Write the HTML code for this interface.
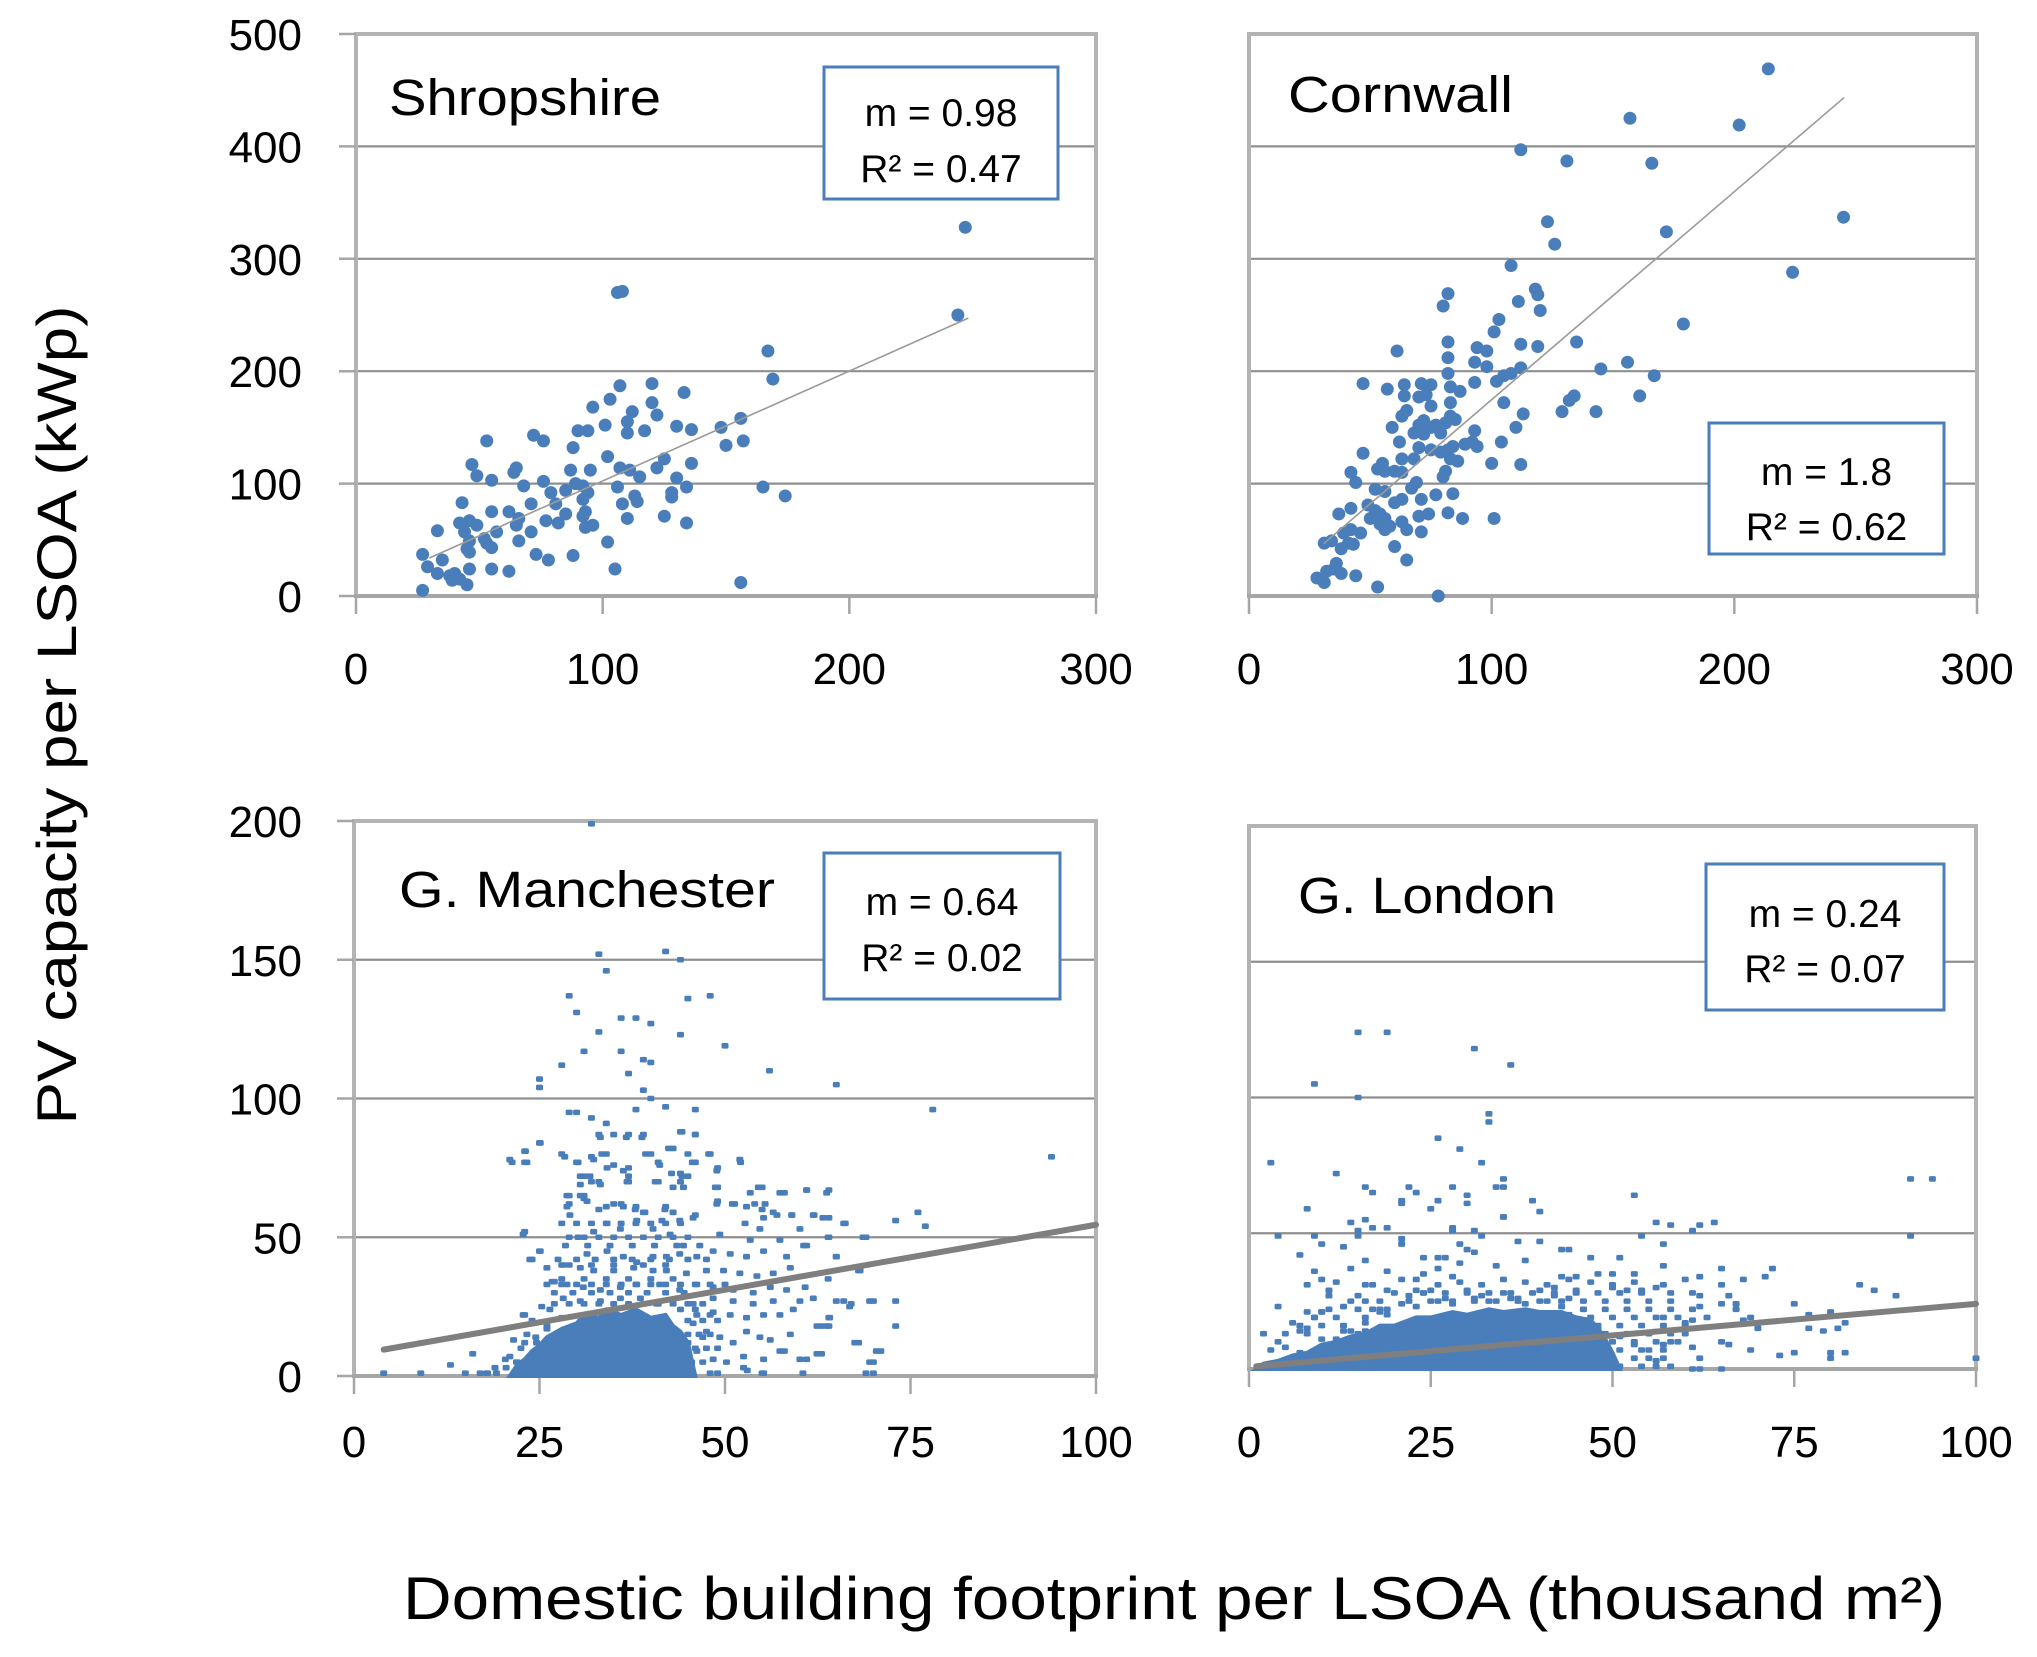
<!DOCTYPE html>
<html><head><meta charset="utf-8"><title>PV capacity vs building footprint</title>
<style>html,body{margin:0;padding:0;background:#fff;}svg{display:block;font-family:"Liberation Sans",Arial,sans-serif;}</style>
</head><body>
<svg id="chart" width="2037" height="1657" viewBox="0 0 2037 1657" xmlns="http://www.w3.org/2000/svg">
<rect x="0" y="0" width="2037" height="1657" fill="#fff"/>
<g id="layer"></g>
<text transform="translate(76,715) rotate(-90)" text-anchor="middle" font-size="56" textLength="819" lengthAdjust="spacingAndGlyphs" fill="#000">PV capacity per LSOA (kWp)</text>
<text x="1174" y="1619" text-anchor="middle" font-size="60" textLength="1542" lengthAdjust="spacingAndGlyphs" fill="#000">Domestic building footprint per LSOA (thousand m²)</text>
</svg>
<script>
// ---------- data ----------
const shropX = [247,244,106,108,167,169,120,107,133,103,96,120,112,122,156,148,101,90,94,130,136,117,110,110,72,76,53,150,157,88,102,125,136,47,65,64,49,55,87,95,107,111,122,115,130,76,68,89,92,106,134,165,174,128,128,79,85,94,92,113,114,43,71,81,108,93,92,55,62,85,125,110,42,46,49,66,65,77,82,96,134,93,33,44,57,71,52,53,55,46,66,102,45,46,27,73,88,78,35,29,46,55,62,105,33,38,40,39,42,45,156,27];
const shropY = [328,250,270,271,218,193,189,187,181,175,168,172,164,161,158,150,152,147,147,151,148,147,155,145,143,138,138,134,138,132,124,122,118,117,114,110,107,103,112,112,114,112,114,106,105,102,98,100,98,97,97,97,89,92,88,92,94,92,86,89,84,83,82,82,82,75,71,75,75,73,71,69,65,67,63,69,63,67,65,63,65,61,58,57,57,57,51,47,43,49,49,48,42,39,37,37,36,32,32,26,24,24,22,24,20,18,20,14,15,10,12,5];

const cornX = [214,157,202,112,131,166,245,123,172,126,108,224,118,119,120,82,80,111,103,179,101,82,135,112,119,94,98,61,82,93,98,156,145,112,108,105,102,82,167,93,47,57,64,71,75,83,87,64,70,73,134,132,161,105,83,75,65,63,129,143,113,83,85,81,72,70,75,77,59,110,93,68,72,79,62,104,89,94,92,70,75,79,82,84,47,83,86,100,112,63,68,55,53,56,60,63,42,44,81,80,69,67,52,56,84,77,71,63,60,49,52,54,56,42,37,82,88,101,70,74,50,54,56,58,63,65,42,46,39,71,31,34,41,38,43,60,65,36,35,32,38,44,28,31,53,78];
const cornY = [469,425,419,397,387,385,337,333,324,313,294,288,273,268,254,269,258,262,246,242,235,226,226,224,222,221,218,218,212,208,204,208,202,203,198,196,191,198,196,190,189,184,188,189,188,186,182,178,177,179,178,174,178,172,172,169,165,160,164,164,162,160,157,154,156,152,150,152,150,150,147,145,144,145,137,137,135,133,137,132,130,128,130,133,127,122,120,118,117,122,122,118,113,111,111,110,110,101,111,106,101,96,95,93,91,90,86,86,83,81,76,73,69,78,73,74,69,69,71,73,69,64,59,62,66,59,59,56,56,57,47,49,47,42,46,44,32,29,24,22,20,18,16,12,8,0];

const manX = [32,33,42,44,34,29,30,45,48,36,38,40,33,44,50,31,36,39,40,28,56,37,25,25,65,39,40,78,29,30,42,46,38,32,34,44,46,33,35,37,39,25,23,23,21,28,30,32,34,40,43,45,48,52,46,94,35,37,37,41,44,45,49,31,32,33,37,41,44,49,55,58,61,64,29,31,29,31,34,36,38,39,42,43,46,49,51,54,55,57,59,62,64,66,73,76,77,69,64,61,65,68,70,73,73,63,64,68,71,70,61,63,66,67,64,58,23,24,25,27,28,23,16,13,4,9,21,22,18,15,17,70,53,55,49,
21.3,23.3,23.1,25.1,28.4,30.2,32.3,33.4,33.2,36.7,38.8,44.2,46,39.3,42.4,47.8,52.1,45.6,41.2,34.1,36.3,30.5,31.8,33.2,36.8,40.6,42.8,44.2,48.9,30.5,43,44.4,48.7,28.7,30.5,31.4,28.7,29.1,33,35,36.3,37.9,39.2,41.9,43,43.9,45.7,48.9,51.3,53.4,54.5,57.4,61,63.7,52.9,55.4,56.5,59,61.9,63.2,66.2,52.7,54.7,60.1,55.2,22.8,30.2,32.3,34.1,35.9,38.1,40.3,41.5,42.6,44.4,46.6,49.3,53.4,57.4,60.6,63.9,68.6,25.1,23.7,26,28.2,26.7,31.4,34.1,36.3,38.1,40.3,42.1,43.9,46.2,48.4,50.7,52.9,55.2,58.3,65,30.5,32.3,35,37.7,40.3,42.1,44.8,47.5,49.8,52,54.3,56.5,58.8,68.2,63.9,28.7,30.9,33.2,35.9,38.1,41.2,43.9,46.2,48.4,51.1,53.8,56.1,58.3,60.8,28.2,30.5,33.2,35.9,38.6,40.8,45.7,48.4,51.1,53.8,56.5,60.1,61.9,65,66.8,69.5,22.8,25.3,26.4,46.2,48.4,50.7,52.9,55.2,57.4,59.2,64.1,21.5,23.3,24.6,26,45.7,47.5,49.3,51.1,52.9,54.7,56.1,58.8,62.4,63.7,67.5,20.4,21.9,23.7,25.5,46.2,48.4,50.2,52.5,55.2,57.4,60.1,62.4,69.5,70.4,17.9,19.2,48,52.5,55.2,60.5,69,
27,29,31,33,35,37,39,41,43,45,47,27,29.5,32,34.5,37,39.5,42,44.5,28,31,34,37,40,43,29,32,35,39,42,45,47,49,45,46.5,48,46,47.5,45.5,47,19,20.5,22.5,24.5,
28,30,32,34,36,38,40,42,44,29,31,33,35,37,39,41,43,45,28.5,31.5,34.5,37.5,40.5,43.5,27.5,30,32.5,35,37.5,40,42.5,45,47.5,26,28,30,32,34,36,38,40,42,44,46,48,50,24,26,28,44,46,48,23,25,45,47,49];
const manY = [199,152,153,150,146,137,131,136,137,129,129,127,124,123,119,117,117,114,113,112,110,109,107,104,105,103,100,96,95,95,97,96,96,93,91,88,87,87,87,87,87,84,81,77,78,80,77,79,80,80,82,80,80,78,77,79,76,75,72,77,73,72,75,72,70,70,70,70,70,68,68,66,67,67,65,65,62,64,61,62,61,59,61,59,58,63,62,62,60,58,58,58,57,55,56,59,54,50,50,47,43,38,27,27,18,18,18,12,9,5,6,8,27,26,21,9,52,42,45,34,40,22,8,4,1,1,7,5,1,1,1,1,2,1,1,
77,77,81,84,79,77,78,80,86,86,86,88,87,80,82,80,77,77,76,75,74,72,72,69,70,70,73,72,74,69,68,68,68,65,65,63,61,58,60,62,61,60,59,60,59,56,57,62,62,66,68,66,67,66,61,62,59,58,58,57,55,55,53,53,57,51,50,52,55,53,56,53,56,51,47,47,51,49,49,47,50,50,45,42,39,40,34,44,45,43,41,43,43,44,43,45,44,43,45,43,43,39,38,38,39,38,38,37,38,38,37,36,37,39,38,35,33,32,31,32,33,33,31,33,32,31,30,32,31,32,28,27,27,28,28,26,26,28,27,26,27,27,28,27,25,27,22,25,24,22,23,22,21,22,22,24,21,13,15,12,17,19,16,14,12,16,14,13,15,18,18,12,6,5,7,9,9,6,5,7,6,9,6,8,5,9,1,1,1,3,1,1,1,
26,26,26,26,26,26,26,26,26,26,26,30,30,30,30,30,30,30,30,35,35,35,35,35,35,40,40,40,40,40,20,20,20,15,15,15,10,10,5,5,3,3,10,14,
55,55,55,55,55,55,55,55,55,50,50,50,50,50,50,50,50,50,47,47,47,47,47,47,42,42,42,42,42,42,42,42,42,33,33,33,33,33,33,33,33,33,33,33,33,33,20,18,21,24,24,22,12,8,12,14,10];
const manCoreX = [21,22,23,24,25,26,28,30,31,33,34,36,38,40,42,43,44,45,45.5,46];
const manCoreY = [0,4,6,9,11,14,17,19,22,21,24,22,24,21,22,18,16,12,6,0];

const lonX = [15,19,31,36,9,15,33,33,26,29,3,32,12,91,94,16,17,22,23,28,35,35,34,53,21,21,26,25,30,30,39,40,8,35,35,14,16,56,58,62,64,17,19,28,28,4,9,15,15,31,32,54,61,91,10,13,21,21,29,30,31,37,40,43,44,57,7,24,26,27,47,51,16,38,34,29,57,65,72,9,14,19,24,26,28,43,45,48,50,53,68,71,10,8,16,21,62,65,84,86,89,11,11,19,23,24,42,45,50,52,54,56,58,61,62,66,4,13,15,16,75,65,62,67,8,10,9,10,17,18,67,69,68,77,80,6,7,8,60,61,57,70,77,79,81,82,2,10,12,14,15,16,65,66,58,60,61,55,57,69,73,75,80,82,80,100,62,57,56,61,62,65,5,7,3,6,
20,24,27,30,33,36,39,42,45,48,51,54,14,18,22,25,28,31,34,37,40,43,46,49,52,55,58,11,15,19,46,49,52,55,58,61,9,12,16,47,50,53,56,59,63,7,10,13,48,51,54,57,60,5,8,49,52,55,58,4,50,53,56,59,3,51,54,57,50,53,55,49,51,54,56,58,12,17,23,26,29,32,35,38,41,44,47,50,53,57,60,
18,21,23,26,28,31,33,36,38,41,43,46,22,25,27,30,32,35,37,40,42,44,13,16,19,44,46,48,51,53];
const lonY = [124,124,118,112,105,100,94,91,85,81,76,76,72,70,70,67,65,67,65,67,70,67,67,64,61,62,62,59,64,61,62,58,59,56,56,54,55,54,53,53,54,52,52,52,51,49,49,49,51,51,49,49,51,49,46,45,48,46,46,44,43,47,47,44,44,46,42,41,41,41,41,41,40,40,38,39,38,37,37,36,37,36,35,37,34,34,34,35,35,35,33,34,33,31,31,33,34,31,31,29,27,29,27,29,29,28,30,29,30,29,29,30,28,28,27,27,23,23,27,25,24,24,23,24,21,21,19,21,22,21,22,19,18,20,21,17,14,15,17,18,19,15,15,14,15,17,13,11,11,14,13,14,10,9,10,13,8,7,9,7,5,6,6,6,4,4,4,4,3,0,0,0,8,6,2,3,
28,28,28,28,28,28,28,28,28,28,28,28,25,25,25,25,25,25,25,25,25,25,25,25,25,25,25,22,22,22,22,22,22,22,22,22,19,19,19,19,19,19,19,19,19,16,16,16,16,16,16,16,16,13,13,13,13,13,13,10,10,10,10,10,7,7,7,7,4,4,4,1,1,1,1,1,32,31,33,31,32,31,33,32,31,33,32,31,32,31,33,
22,24,23,25,24,26,25,26,24,25,23,22,27,29,26,29,27,28,26,29,27,26,14,17,20,20,17,15,12,9];
const lonCoreX = [1,2,4,6,8,10,12,14,16,18,20,23,25,28,30,33,35,38,40,43,45,47,48,49,50,51];
const lonCoreY = [0,2,3,5,6,9,10,12,13,16,16,19,19,21,20,22,21,22,21,21,19,18,15,11,6,0];

const trendShropX = [30,248], trendShropY = [34,247];
const trendCornX = [31,245], trendCornY = [47,443];
const trendManX = [4,100], trendManY = [9.5,54.5];
const trendLonX = [1,100], trendLonY = [1,24];

const topXTicks = [0,100,200,300];
const topYTicks = [0,100,200,300,400,500];
const botXTicks = [0,25,50,75,100];
const botYTicks = [0,50,100,150,200];

// ---------- drawing ----------
const NS = 'http://www.w3.org/2000/svg';
const layer = document.getElementById('layer');
function mk(tag, attrs, parent){ const e=document.createElementNS(NS,tag); for(const k in attrs) e.setAttribute(k,attrs[k]); (parent||layer).appendChild(e); return e; }
function scale(d0,d1,r0,r1){ return v => r0 + (v-d0)/(d1-d0)*(r1-r0); }

const BLUE = '#4a7ebb';
const panels = [
 {key:'shropshire', title:'Shropshire', tx:389, ty:115, tw:272, px0:356, px1:1096, pyb:596, pyt:34, xmax:300, ymax:500, xt:topXTicks, yt:topYTicks, ylab:true,
  xs:shropX, ys:shropY, box:[824,67,234,132], m:'m = 0.98', r:'R² = 0.47', b1:126, b2:182, tX:trendShropX, tY:trendShropY, tw2:1.6, dots:'circle', xlY:684},
 {key:'cornwall', title:'Cornwall', tx:1288, ty:112, tw:225, px0:1249, px1:1977, pyb:596, pyt:34, xmax:300, ymax:500, xt:topXTicks, yt:topYTicks, ylab:false,
  xs:cornX, ys:cornY, box:[1709,423,235,131], m:'m = 1.8', r:'R² = 0.62', b1:485, b2:540, tX:trendCornX, tY:trendCornY, tw2:1.6, dots:'circle', xlY:684},
 {key:'g-manchester', title:'G. Manchester', tx:399, ty:907, tw:376, px0:354, px1:1096, pyb:1376, pyt:821, xmax:100, ymax:200, xt:botXTicks, yt:botYTicks, ylab:true,
  xs:manX, ys:manY, cx:manCoreX, cy:manCoreY, box:[824,853,236,146], m:'m = 0.64', r:'R² = 0.02', b1:915, b2:971, tX:trendManX, tY:trendManY, tw2:6, dots:'square', xlY:1457},
 {key:'g-london', title:'G. London', tx:1298, ty:913, tw:258, px0:1249, px1:1976, pyb:1369, pyt:826, xmax:100, ymax:200, xt:botXTicks, yt:botYTicks, ylab:false,
  xs:lonX, ys:lonY, cx:lonCoreX, cy:lonCoreY, box:[1706,864,238,146], m:'m = 0.24', r:'R² = 0.07', b1:927, b2:982, tX:trendLonX, tY:trendLonY, tw2:6, dots:'square', xlY:1457}
];

panels.forEach(p => {
  const g = mk('g', {});
  
  
  const X = scale(0,p.xmax,p.px0,p.px1), Y = scale(0,p.ymax,p.pyb,p.pyt);
  p.yt.forEach(v => {
    if (v===0 || v===p.ymax) return;
    const l = mk('line', {x1:p.px0, x2:p.px1, y1:Y(v), y2:Y(v), stroke:'#8f8f8f', 'stroke-width':2.2}, g);
    
    
  });
  const fr = mk('rect', {x:p.px0, y:Y(p.ymax), width:p.px1-p.px0, height:p.pyb-Y(p.ymax), fill:'none', stroke:'#b3b3b3', 'stroke-width':4}, g);
  
  
  const ax = mk('line', {x1:p.px0-2, x2:p.px1+2, y1:p.pyb, y2:p.pyb, stroke:'#a6a6a6', 'stroke-width':4}, g);
  
  
  p.xt.forEach(v => {
    const t = mk('line', {x1:X(v), x2:X(v), y1:p.pyb, y2:p.pyb+18, stroke:'#a6a6a6', 'stroke-width':2.5}, g);
    
    
    const tl = mk('text', {x:X(v), y:p.xlY, 'text-anchor':'middle', 'font-size':44, fill:'#000'}, g);
    tl.textContent = v;
    
    
  });
  if (p.ylab) {
    p.yt.forEach(v => {
      const t = mk('line', {x1:p.px0-17, x2:p.px0, y1:Y(v), y2:Y(v), stroke:'#a6a6a6', 'stroke-width':2.5}, g);
      
      
      const tl = mk('text', {x:302, y:Y(v)+16, 'text-anchor':'end', 'font-size':44, fill:'#000'}, g);
      tl.textContent = v;
      
      
    });
  }
  if (p.cx) {
    let pts = p.cx.map((v,i) => X(v).toFixed(1)+','+Y(p.cy[i]).toFixed(1)).join(' ');
    const core = mk('polygon', {points:pts, fill:BLUE, stroke:BLUE, 'stroke-width':4, 'stroke-linejoin':'miter'}, g);
    
    
  }
  p.xs.forEach((v,i) => {
    let d;
    if (p.dots==='circle') d = mk('circle', {cx:X(v), cy:Y(p.ys[i]), r:6.5, fill:BLUE}, g);
    else d = mk('rect', {x:X(v)-3.5, y:Y(p.ys[i])-2.8, width:7, height:5.6, rx:1.5, fill:BLUE}, g);
    
    
  });
  const tr = mk('line', {x1:X(p.tX[0]), y1:Y(p.tY[0]), x2:X(p.tX[1]), y2:Y(p.tY[1]), stroke: p.tw2>3?'#7f7f7f':'#9a9a9a', 'stroke-width':p.tw2, 'stroke-linecap':'round'}, g);
  
  
  const ti = mk('text', {x:p.tx, y:p.ty, 'font-size':51, textLength:p.tw, lengthAdjust:'spacingAndGlyphs', fill:'#000'}, g);
  ti.textContent = p.title;
  
  
  const b = p.box;
  const bx = mk('rect', {x:b[0], y:b[1], width:b[2], height:b[3], fill:'#fff', stroke:'#4a7ebb', 'stroke-width':3}, g);
  
  
  const cxm = b[0] + b[2]/2;
  const t1 = mk('text', {x:cxm, y:p.b1, 'text-anchor':'middle', 'font-size':39, fill:'#000'}, g);
  t1.textContent = p.m;
  
  
  const t2 = mk('text', {x:cxm, y:p.b2, 'text-anchor':'middle', 'font-size':39, fill:'#000'}, g);
  t2.textContent = p.r;
  
  
});
</script>
</body></html>
